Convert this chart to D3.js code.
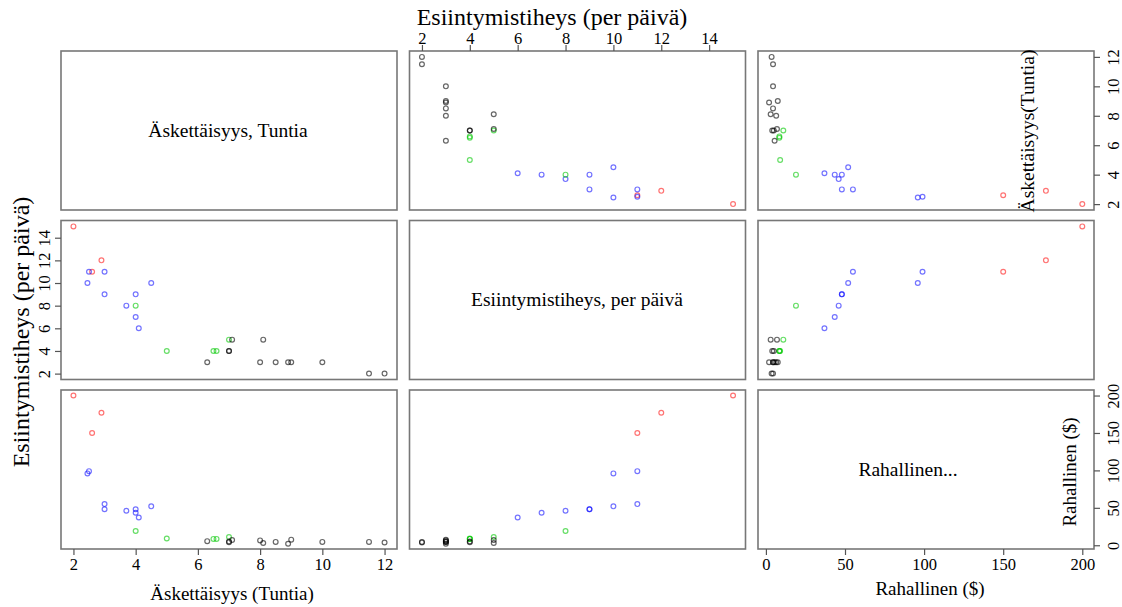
<!DOCTYPE html>
<html>
<head>
<meta charset="utf-8">
<script src="https://cdn.jsdelivr.net/npm/d3@7"></script>
<style>
  html, body { margin: 0; padding: 0; background: #fff; }
  svg { display: block; font-family: 'Liberation Serif', 'DejaVu Serif', serif; }
  svg text { font-family: 'Liberation Serif', 'DejaVu Serif', serif !important; fill: #000; }
</style>
</head>
<body>
<svg id="chart" width="1122" height="607"></svg>
<script>
// ---- data ----
const recency   = [2, 2.9, 2.6,  2.45, 2.5, 3, 4.5, 3, 4, 3.7, 4, 4.1,  4, 5, 6.5, 6.6, 7,  12, 11.5, 10, 9, 8.9, 8.5, 8.1, 8, 6.3, 7, 7, 7.1];
const frequency = [15, 12, 11,   10, 11, 11, 10, 9, 9, 8, 7, 6,         8, 4, 4, 4, 5,        2, 2, 3, 3, 3, 3, 5, 3, 3, 4, 4, 5];
const monetary  = [200, 177, 150, 96, 99, 55, 52, 48, 48, 46, 43.5, 37,  19, 9, 8.5, 8.5, 11,  3.6, 4.5, 4.5, 7.5, 2, 4.5, 3, 6.5, 5.5, 4, 5, 7];
const cluster   = ["red","red","red",
                   "blue","blue","blue","blue","blue","blue","blue","blue","blue",
                   "green","green","green","green","green",
                   "black","black","black","black","black","black","black","black","black","black","black","black"];

const recencyTicks   = [2, 4, 6, 8, 10, 12];
const frequencyTicks = [2, 4, 6, 8, 10, 12, 14];
const monetaryTicks  = [0, 50, 100, 150, 200];

const diagLabels = ["Äskettäisyys, Tuntia", "Esiintymistiheys, per päivä", "Rahallinen..."];
const titleRecency   = "Äskettäisyys (Tuntia)";
const titleRecency2  = "Äskettäisyys(Tuntia)";
const titleFrequency = "Esiintymistiheys (per päivä)";
const titleMonetary  = "Rahallinen ($)";

// ---- layout ----
const font = "'Liberation Serif', 'DejaVu Serif', serif";
const svg = d3.select("#chart");
const colX = [61, 409.5, 758];
const rowY = [51, 220.5, 390];
const W = 336, H = 159;
const vals = [recency, frequency, monetary];
const domains = [[1.6, 12.4], [1.48, 15.52], [-5, 207.4]];
const colors = {
  red: "rgba(255,0,0,0.55)",
  blue: "rgba(0,0,255,0.55)",
  green: "rgba(0,200,0,0.6)",
  black: "rgba(0,0,0,0.6)"
};

const xs = domains.map((d, i) => d3.scaleLinear().domain(d).range([colX[i], colX[i] + W]));
const ys = domains.map((d, i) => d3.scaleLinear().domain(d).range([rowY[i] + H, rowY[i]]));

function label(sel, size) {
  return sel.attr("font-family", font).style("font-family", font).style("font-size", size + "px");
}

// panels
for (let i = 0; i < 3; i++) {
  for (let j = 0; j < 3; j++) {
    const g = svg.append("g");
    if (i === j) {
      const lx = [228, 577, 908][i];
      g.append("text")
        .attr("x", lx)
        .attr("y", rowY[i] + H / 2 + 6)
        .attr("text-anchor", "middle")
        .call(label, 19.5)
        .text(diagLabels[i]);
    } else {
      g.selectAll("circle")
        .data(d3.range(recency.length))
        .join("circle")
        .attr("cx", k => xs[j](vals[j][k]))
        .attr("cy", k => ys[i](vals[i][k]))
        .attr("r", 2.4)
        .attr("fill", "none")
        .attr("stroke", k => colors[cluster[k]])
        .attr("stroke-width", 1.2);
    }
    g.append("rect")
      .attr("x", colX[j]).attr("y", rowY[i])
      .attr("width", W).attr("height", H)
      .attr("fill", "none")
      .attr("stroke", "#777")
      .attr("stroke-width", 1.6);
  }
}

function styleAxis(g) {
  g.attr("font-family", font);
  g.select(".domain").remove();
  g.selectAll(".tick line").attr("stroke", "#555").attr("stroke-width", 1.2);
  g.selectAll(".tick text").call(label, 16.5).attr("fill", "#000");
}

// top axis (frequency) over column 2
svg.append("g")
  .attr("transform", `translate(0,${rowY[0]})`)
  .call(d3.axisTop(xs[1]).tickValues(frequencyTicks).tickSize(6).tickPadding(1).tickSizeOuter(0))
  .call(styleAxis);

// bottom axis (recency) under column 1
svg.append("g")
  .attr("transform", `translate(0,${rowY[2] + H})`)
  .call(d3.axisBottom(xs[0]).tickValues(recencyTicks).tickSize(6).tickPadding(3).tickSizeOuter(0))
  .call(styleAxis);

// bottom axis (monetary) under column 3
svg.append("g")
  .attr("transform", `translate(0,${rowY[2] + H})`)
  .call(d3.axisBottom(xs[2]).tickValues(monetaryTicks).tickSize(6).tickPadding(3).tickSizeOuter(0))
  .call(styleAxis);

// left axis (frequency) on row 2
svg.append("g")
  .attr("transform", `translate(${colX[0]},0)`)
  .call(d3.axisLeft(ys[1]).tickValues(frequencyTicks).tickSize(6).tickSizeOuter(0))
  .call(styleAxis)
  .call(g => g.selectAll(".tick text")
    .attr("x", null).attr("dy", null)
    .attr("text-anchor", "middle")
    .attr("transform", "translate(-11,0) rotate(-90)"));

// right axis (recency) on row 1
svg.append("g")
  .attr("transform", `translate(${colX[2] + W},0)`)
  .call(d3.axisRight(ys[0]).tickValues(recencyTicks).tickSize(6).tickSizeOuter(0))
  .call(styleAxis)
  .call(g => g.selectAll(".tick text")
    .attr("x", null).attr("dy", null)
    .attr("text-anchor", "middle")
    .attr("transform", "translate(25,0) rotate(-90)"));

// right axis (monetary) on row 3
svg.append("g")
  .attr("transform", `translate(${colX[2] + W},0)`)
  .call(d3.axisRight(ys[2]).tickValues(monetaryTicks).tickSize(6).tickSizeOuter(0))
  .call(styleAxis)
  .call(g => g.selectAll(".tick text")
    .attr("x", null).attr("dy", null)
    .attr("text-anchor", "middle")
    .attr("transform", "translate(25,0) rotate(-90)"));

// titles
svg.append("text").attr("x", 552).attr("y", 25).attr("text-anchor", "middle")
  .call(label, 24).text(titleFrequency);
svg.append("text").attr("transform", "translate(29,332) rotate(-90)").attr("text-anchor", "middle")
  .call(label, 24).text(titleFrequency);
svg.append("text").attr("x", 232).attr("y", 600).attr("text-anchor", "middle")
  .call(label, 19).text(titleRecency);
svg.append("text").attr("x", 930).attr("y", 595).attr("text-anchor", "middle")
  .call(label, 19).text(titleMonetary);
svg.append("text").attr("transform", "translate(1034,131) rotate(-90)").attr("text-anchor", "middle")
  .call(label, 19.5).text(titleRecency2);
svg.append("text").attr("transform", "translate(1076,472) rotate(-90)").attr("text-anchor", "middle")
  .call(label, 19).text(titleMonetary);
</script>
</body>
</html>
